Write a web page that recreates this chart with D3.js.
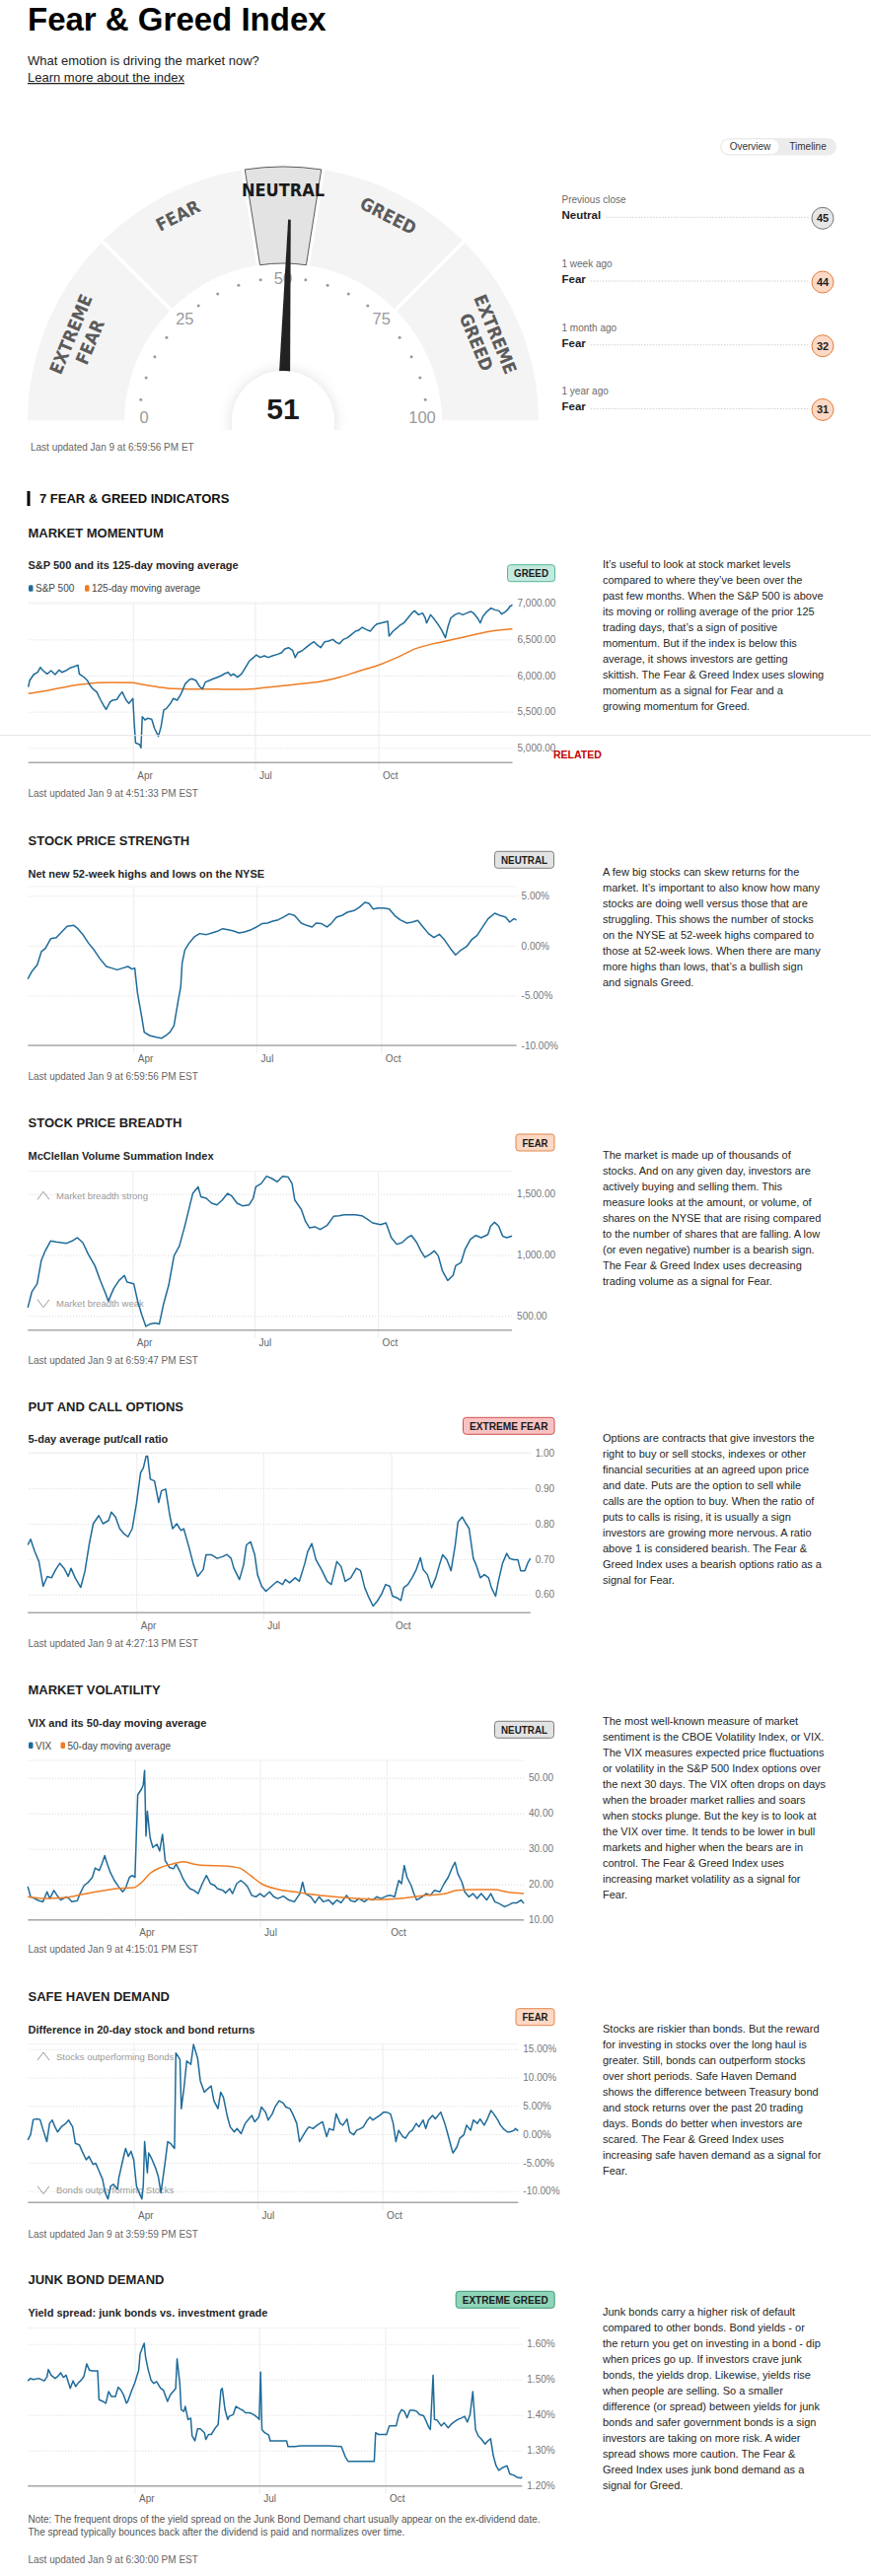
<!DOCTYPE html>
<html lang="en">
<head>
<meta charset="UTF-8">
<title>Fear &amp; Greed Index</title>
<style>
  body { margin: 0; background: #fff; }
  svg { display: block; font-family: "Liberation Sans", Arial, Helvetica, sans-serif; }
  .cond { font-family: "Liberation Sans Narrow", "Arial Narrow", "DejaVu Sans Condensed", sans-serif; font-stretch: condensed; }
</style>
</head>
<body>
<svg id="page" width="883" height="2612"></svg>
<script src="https://d3js.org/d3.v7.min.js"></script>
<script>
// ---------- data ----------
const START = new Date(2025, 0, 13);
const END = new Date(2026, 0, 9);
const monthTicks = [new Date(2025, 3, 1), new Date(2025, 6, 1), new Date(2025, 9, 1)];
const monthLabels = ["Apr", "Jul", "Oct"];

const gaugeValue = 51;
const zoneNames = [["EXTREME", "FEAR"], ["FEAR"], ["NEUTRAL"], ["GREED"], ["EXTREME", "GREED"]];
const zoneBounds = [[0, 25], [25, 45], [45, 55], [55, 75], [75, 100]];
const activeZone = 2;

const historyLabels = ["Previous close", "1 week ago", "1 month ago", "1 year ago"];
const historyRatings = ["Neutral", "Fear", "Fear", "Fear"];
const historyValues = [45, 44, 32, 31];

// [days since Jan 13 2025, value]
const sp500 = [[0,5841],[1,5932],[4,6014],[7,6045],[9,6114],[11,6068],[14,6023],[17,6068],[20,6014],[23,6077],[25,6045],[28,6068],[31,6105],[34,6123],[37,6145],[38,6023],[41,5986],[44,5932],[46,5864],[48,5818],[51,5773],[54,5659],[56,5591],[58,5532],[61,5636],[63,5659],[66,5668],[68,5727],[70,5773],[73,5659],[75,5614],[78,5682],[79,5341],[80,5068],[83,5046],[84,5000],[85,5432],[87,5386],[89,5409],[92,5396],[94,5273],[97,5159],[99,5296],[101,5523],[103,5545],[106,5614],[108,5682],[111,5659],[114,5750],[117,5886],[120,5941],[122,5955],[125,5932],[128,5841],[130,5818],[132,5909],[135,5932],[138,5955],[141,5977],[144,6000],[146,6023],[149,6045],[151,6000],[153,6023],[156,5977],[159,6023],[162,6114],[165,6205],[168,6250],[170,6286],[173,6250],[176,6273],[179,6250],[182,6273],[186,6295],[189,6318],[191,6364],[194,6386],[197,6350],[199,6250],[201,6318],[204,6341],[207,6386],[210,6432],[213,6468],[215,6432],[218,6386],[221,6468],[224,6477],[227,6500],[230,6455],[232,6441],[235,6500],[238,6523],[241,6568],[244,6614],[246,6623],[249,6668],[252,6636],[255,6614],[258,6682],[260,6714],[263,6727],[266,6741],[268,6750],[269,6545],[272,6614],[275,6659],[277,6695],[280,6727],[283,6795],[286,6864],[288,6895],[291,6841],[294,6864],[296,6795],[297,6727],[300,6841],[303,6773],[306,6695],[308,6636],[311,6523],[313,6682],[315,6795],[318,6841],[321,6864],[324,6841],[327,6864],[330,6886],[332,6864],[335,6795],[337,6727],[339,6818],[342,6886],[345,6932],[348,6909],[351,6895],[353,6850],[356,6886],[358,6923],[359,6955],[361,6977]];
const sp500Ma125 = [[0,5750],[7,5773],[15,5795],[21,5818],[30,5850],[35,5868],[44,5886],[52,5900],[63,5905],[77,5900],[86,5873],[97,5841],[108,5818],[120,5814],[134,5814],[148,5809],[162,5809],[176,5832],[190,5859],[204,5886],[218,5918],[232,5977],[246,6059],[260,6136],[275,6250],[289,6373],[303,6445],[317,6500],[331,6559],[345,6614],[361,6645]];
const highsLows = [[0,-3.34],[3,-2.58],[7,-1.92],[10,-0.60],[13,-0.28],[17,0.71],[21,0.81],[25,1.37],[29,1.93],[34,2.03],[37,1.70],[41,1.04],[45,0.22],[49,-0.44],[53,-1.26],[58,-2.09],[62,-2.25],[66,-2.42],[70,-2.25],[74,-2.09],[77,-2.35],[79,-2.25],[81,-4.73],[84,-7.03],[86,-8.68],[90,-9.01],[95,-9.18],[99,-9.28],[102,-9.01],[105,-8.68],[108,-8.02],[110,-6.37],[113,-4.07],[114,-1.76],[116,-0.44],[119,0.22],[123,0.88],[127,1.21],[132,1.11],[136,1.27],[140,1.44],[144,1.70],[148,1.60],[152,1.47],[156,1.27],[160,1.37],[165,1.60],[169,1.87],[173,2.20],[177,2.26],[181,2.46],[185,2.59],[189,2.86],[193,3.19],[197,3.02],[202,2.26],[206,2.03],[210,1.87],[213,2.26],[217,2.20],[221,1.87],[224,2.20],[228,2.86],[232,3.02],[236,3.35],[241,3.52],[245,3.85],[249,4.34],[252,4.24],[255,3.68],[259,3.78],[263,3.78],[267,3.68],[271,3.02],[275,2.59],[280,2.26],[284,2.36],[288,2.53],[292,1.87],[296,1.21],[300,0.81],[304,1.14],[308,0.55],[313,-0.44],[316,-0.93],[320,-0.44],[324,-0.11],[328,0.61],[332,1.04],[336,1.87],[340,2.69],[345,3.25],[349,3.02],[353,2.86],[356,2.36],[359,2.69],[361,2.59]];
const mcclellan = [[0,568],[3,697],[7,764],[10,953],[13,1034],[17,1115],[21,1107],[25,1101],[29,1096],[33,1115],[37,1142],[41,1101],[45,1007],[50,912],[54,791],[58,683],[60,621],[64,724],[68,791],[72,832],[74,778],[79,764],[82,616],[85,508],[88,414],[91,433],[95,441],[98,433],[101,589],[105,751],[109,993],[113,1074],[117,1236],[120,1371],[123,1505],[127,1559],[129,1478],[133,1465],[137,1425],[141,1411],[145,1451],[149,1505],[152,1484],[156,1425],[160,1403],[165,1411],[168,1465],[170,1559],[174,1586],[178,1646],[182,1627],[186,1600],[190,1646],[194,1640],[197,1586],[199,1451],[204,1371],[207,1276],[210,1222],[214,1231],[218,1209],[223,1241],[228,1317],[232,1322],[236,1330],[240,1330],[244,1330],[249,1322],[253,1295],[257,1263],[263,1249],[267,1263],[271,1142],[275,1088],[279,1101],[283,1142],[286,1160],[290,1101],[293,1034],[296,980],[300,1007],[303,1034],[306,993],[309,872],[313,791],[317,832],[319,912],[323,939],[326,1047],[330,1128],[334,1160],[338,1142],[343,1168],[345,1236],[348,1268],[351,1236],[354,1155],[357,1142],[361,1155]];
const putCall = [[0,0.740],[2,0.756],[5,0.721],[8,0.693],[11,0.623],[14,0.651],[17,0.647],[20,0.670],[23,0.688],[26,0.674],[29,0.651],[31,0.674],[34,0.647],[38,0.620],[41,0.665],[44,0.740],[47,0.800],[51,0.823],[54,0.800],[58,0.809],[60,0.833],[63,0.819],[66,0.786],[69,0.772],[72,0.763],[75,0.786],[78,0.856],[81,0.944],[83,0.958],[85,0.991],[86,0.991],[88,0.926],[91,0.921],[94,0.860],[96,0.893],[99,0.898],[102,0.823],[104,0.786],[107,0.800],[110,0.781],[112,0.786],[116,0.730],[119,0.684],[122,0.651],[126,0.670],[128,0.712],[132,0.712],[136,0.702],[140,0.707],[143,0.713],[146,0.702],[148,0.674],[152,0.642],[155,0.684],[157,0.740],[160,0.749],[163,0.712],[165,0.656],[168,0.623],[171,0.609],[175,0.623],[179,0.637],[183,0.628],[185,0.642],[188,0.633],[192,0.647],[195,0.637],[199,0.688],[201,0.721],[204,0.744],[207,0.698],[211,0.670],[215,0.637],[218,0.628],[222,0.693],[225,0.679],[228,0.637],[232,0.647],[236,0.674],[239,0.667],[242,0.619],[245,0.591],[248,0.567],[251,0.581],[254,0.600],[257,0.628],[260,0.623],[262,0.595],[265,0.591],[268,0.583],[270,0.619],[273,0.628],[276,0.647],[279,0.670],[282,0.704],[284,0.670],[287,0.656],[290,0.619],[293,0.647],[296,0.688],[298,0.712],[301,0.698],[304,0.667],[307,0.740],[309,0.805],[312,0.819],[314,0.805],[317,0.786],[320,0.702],[322,0.684],[325,0.647],[328,0.656],[331,0.647],[333,0.619],[336,0.595],[338,0.637],[341,0.688],[344,0.716],[346,0.702],[349,0.698],[352,0.698],[354,0.667],[357,0.667],[359,0.688],[361,0.702]];
const vix = [[0,19.4],[2,16.5],[5,16.0],[8,15.4],[11,15.1],[14,17.9],[16,16.0],[19,18.3],[22,16.5],[24,15.6],[28,16.5],[30,16.0],[32,15.1],[36,15.4],[38,17.4],[41,19.7],[44,20.6],[47,22.0],[49,24.6],[52,23.9],[54,25.9],[56,28.1],[57,26.7],[60,23.4],[63,21.1],[66,19.4],[69,17.9],[71,18.8],[74,22.0],[76,22.5],[78,22.0],[80,45.2],[83,47.0],[84,48.0],[85,52.1],[86,33.6],[87,40.6],[89,33.1],[91,30.4],[94,31.3],[96,29.4],[98,34.1],[100,26.7],[103,24.8],[106,24.4],[108,25.7],[111,23.4],[113,21.6],[116,19.7],[118,18.8],[121,18.3],[124,17.4],[127,20.2],[130,22.5],[133,20.2],[136,19.7],[138,18.8],[142,18.3],[144,17.6],[147,18.8],[149,17.4],[152,20.2],[155,21.1],[158,20.2],[160,19.3],[163,16.9],[166,16.5],[169,17.4],[172,16.5],[176,17.9],[179,16.5],[182,16.0],[186,16.7],[190,15.6],[194,15.1],[198,17.4],[200,20.6],[202,17.4],[206,16.5],[209,14.8],[212,16.5],[215,15.1],[219,15.6],[222,14.4],[225,15.6],[228,14.8],[232,16.9],[235,15.4],[238,15.1],[241,16.0],[245,15.1],[248,16.0],[251,15.6],[254,16.5],[257,16.0],[261,16.7],[264,16.9],[267,16.5],[270,21.1],[272,20.2],[274,25.3],[276,22.0],[279,19.7],[281,17.4],[283,15.6],[287,16.5],[290,17.4],[293,16.9],[296,18.3],[300,17.9],[303,20.2],[306,22.0],[309,24.8],[311,26.2],[313,23.0],[316,20.6],[318,17.9],[321,16.5],[324,17.4],[327,16.0],[330,17.4],[334,15.6],[337,17.4],[340,15.1],[343,14.6],[347,13.7],[350,14.2],[353,14.8],[356,14.8],[359,15.6],[361,14.6]];
const vixMa50 = [[0,16.5],[12,16.0],[28,16.3],[40,17.2],[53,18.1],[65,18.8],[77,19.1],[83,20.6],[89,23.1],[97,24.8],[105,25.7],[113,26.4],[121,25.7],[130,25.3],[142,25.2],[154,24.6],[162,22.5],[170,20.2],[182,18.6],[194,17.9],[206,17.2],[223,16.5],[239,16.0],[255,15.7],[271,16.0],[287,16.8],[304,17.4],[312,18.3],[324,18.5],[340,18.5],[348,17.9],[361,17.4]];
const safeHaven = [[0,-1.0],[2,-0.1],[4,2.6],[7,2.7],[9,2.6],[11,1.0],[14,-1.3],[16,1.9],[18,2.5],[20,1.3],[22,0.4],[25,1.4],[28,1.9],[30,2.5],[33,1.3],[35,-1.6],[38,-1.9],[40,-3.0],[43,-4.5],[45,-3.9],[48,-5.3],[50,-5.1],[53,-6.8],[55,-7.9],[57,-10.3],[59,-11.4],[61,-9.1],[63,-8.8],[66,-9.7],[67,-7.7],[70,-4.5],[72,-2.5],[74,-3.9],[76,-3.0],[78,-4.5],[80,-9.1],[82,-10.3],[84,-11.4],[85,-9.1],[86,-1.3],[88,-6.8],[89,-3.3],[91,-4.2],[94,-5.9],[96,-7.4],[98,-10.3],[101,-5.1],[103,-1.3],[105,-1.6],[108,-2.5],[109,14.3],[112,13.2],[113,4.5],[115,8.2],[117,12.9],[120,12.3],[122,15.8],[125,13.4],[127,9.4],[130,7.4],[132,7.9],[135,8.5],[137,5.9],[140,4.5],[142,7.4],[144,6.5],[147,3.0],[149,1.3],[152,0.4],[154,1.0],[157,0.1],[160,1.9],[162,2.5],[165,3.3],[167,2.2],[170,3.0],[172,4.8],[175,3.9],[177,2.5],[180,3.6],[182,4.8],[185,5.9],[188,5.5],[190,4.8],[193,4.5],[195,3.6],[198,1.9],[200,-1.3],[203,-0.1],[205,0.7],[207,1.3],[210,1.0],[213,1.6],[215,1.9],[217,2.2],[220,-0.4],[222,1.0],[225,0.7],[227,3.6],[230,1.9],[232,1.6],[235,2.7],[237,0.4],[240,-0.1],[242,0.7],[245,1.0],[247,1.3],[250,2.5],[252,3.0],[254,2.5],[257,3.0],[259,3.3],[262,3.9],[264,3.9],[267,3.6],[269,1.9],[271,-1.3],[273,0.7],[276,-0.4],[278,-0.7],[281,0.4],[283,0.7],[286,1.9],[288,1.3],[291,2.5],[293,1.0],[295,2.5],[298,3.3],[300,2.7],[303,3.6],[304,3.9],[307,1.9],[309,0.2],[312,-2.5],[313,-3.3],[316,-2.2],[318,-0.7],[321,-0.1],[323,1.6],[326,0.7],[328,2.5],[331,1.9],[333,2.7],[336,1.6],[338,2.5],[341,4.2],[343,3.6],[346,2.5],[348,1.6],[350,1.0],[353,0.4],[355,0.4],[358,0.7],[359,1.0],[361,0.6]];
const junkSpread = [[0,1.496],[2,1.503],[4,1.500],[8,1.503],[12,1.496],[14,1.507],[15,1.528],[17,1.512],[20,1.503],[22,1.509],[24,1.519],[26,1.506],[28,1.512],[29,1.500],[31,1.475],[33,1.496],[35,1.480],[37,1.491],[39,1.498],[41,1.509],[43,1.544],[45,1.526],[47,1.524],[51,1.524],[52,1.443],[55,1.438],[57,1.433],[59,1.466],[61,1.452],[64,1.452],[66,1.478],[68,1.470],[70,1.456],[72,1.433],[73,1.438],[76,1.470],[78,1.489],[81,1.526],[82,1.572],[85,1.602],[86,1.563],[88,1.526],[90,1.498],[92,1.489],[94,1.494],[97,1.475],[99,1.470],[102,1.438],[104,1.456],[107,1.470],[108,1.475],[109,1.558],[111,1.489],[112,1.415],[114,1.410],[115,1.424],[117,1.387],[119,1.391],[120,1.341],[122,1.327],[124,1.361],[126,1.361],[129,1.350],[130,1.331],[132,1.345],[134,1.345],[137,1.364],[139,1.373],[141,1.470],[142,1.475],[144,1.415],[146,1.387],[147,1.396],[150,1.401],[152,1.424],[155,1.417],[157,1.413],[159,1.406],[162,1.406],[165,1.401],[168,1.392],[169,1.387],[170,1.521],[171,1.359],[173,1.350],[176,1.343],[177,1.327],[183,1.327],[189,1.327],[190,1.311],[195,1.311],[199,1.313],[207,1.313],[220,1.313],[229,1.311],[232,1.281],[234,1.269],[244,1.269],[253,1.269],[254,1.350],[256,1.345],[262,1.345],[264,1.369],[269,1.369],[271,1.401],[273,1.415],[275,1.410],[277,1.392],[279,1.413],[282,1.413],[284,1.410],[286,1.401],[289,1.398],[291,1.382],[293,1.364],[294,1.359],[296,1.512],[297,1.387],[299,1.385],[302,1.369],[304,1.378],[307,1.364],[309,1.373],[312,1.382],[314,1.387],[317,1.392],[319,1.396],[321,1.380],[323,1.401],[325,1.466],[327,1.359],[329,1.341],[331,1.333],[334,1.318],[336,1.327],[338,1.333],[340,1.285],[342,1.257],[344,1.244],[347,1.252],[350,1.257],[352,1.234],[355,1.230],[357,1.225],[360,1.222],[361,1.225]];

const sp500Ticks = [5000, 5500, 6000, 6500, 7000];
const highsLowsTicks = [-10, -5, 0, 5];
const mcclellanTicks = [500, 1000, 1500];
const putCallTicks = [0.6, 0.7, 0.8, 0.9, 1.0];
const vixTicks = [10, 20, 30, 40, 50];
const safeHavenTicks = [-10, -5, 0, 5, 10, 15];
const junkTicks = [1.2, 1.3, 1.4, 1.5, 1.6];

const BLUE = "#1f6b9a", ORANGE = "#ee7d24";

// ---------- helpers ----------
const svg = d3.select("#page");
const loc = d3.formatLocale({ decimal: ".", thousands: ",", grouping: [3], currency: ["$", ""], minus: "-" });
const fmtNum = loc.format(",.2f");
const fmtPct = d => loc.format(".2f")(d) + "%";

const defs = svg.append("defs");
defs.append("filter").attr("id", "soft").attr("x", "-50%").attr("y", "-50%").attr("width", "200%").attr("height", "200%")
  .append("feDropShadow").attr("dx", 0).attr("dy", 0).attr("stdDeviation", 7).attr("flood-color", "#000").attr("flood-opacity", 0.13);
defs.append("clipPath").attr("id", "hubClip").append("rect").attr("x", -90).attr("y", -90).attr("width", 180).attr("height", 98);

function txt(x, y, s, o = {}) {
  const t = svg.append("text").attr("x", x).attr("y", y).text(s)
    .attr("font-size", o.size || 11).attr("font-weight", o.weight || 400).attr("fill", o.color || "#222");
  if (o.anchor) t.attr("text-anchor", o.anchor);
  return t;
}

function paragraph(lines, y0) {
  lines.forEach((s, i) => txt(611, y0 + i * 16, s, { size: 11, color: "#262626" }));
}

const badgeStyle = {
  "GREED": ["#c2eadf", "#55b597"],
  "NEUTRAL": ["#e3e3e3", "#7d7d7d"],
  "FEAR": ["#fdd8c3", "#e2864a"],
  "EXTREME FEAR": ["#f9c2c2", "#cf4f4f"],
  "EXTREME GREED": ["#8fd5b9", "#3b9b77"]
};
function badge(label, x, y, w) {
  const [fill, stroke] = badgeStyle[label];
  svg.append("rect").attr("x", x + 0.5).attr("y", y + 0.5).attr("width", w).attr("height", 17)
    .attr("rx", 3).attr("fill", fill).attr("stroke", stroke);
  txt(x + 0.5 + w / 2, y + 13, label, { size: 11, weight: 700, anchor: "middle", color: "#1c1c1c" })
    .attr("textLength", w - 13).attr("lengthAdjust", "spacingAndGlyphs");
}

function sectionHead(title, titleY, sub, subY) {
  txt(28.5, titleY, title, { size: 13, weight: 700, color: "#1e1e1e" });
  txt(28.5, subY, sub, { size: 11, weight: 700, color: "#262626" });
}

function legend(y, items) {
  items.forEach(it => {
    svg.append("rect").attr("x", it[0]).attr("y", y - 7).attr("width", 4.5).attr("height", 6.5).attr("rx", 1.5).attr("fill", it[2]);
    txt(it[0] + 7, y, it[1], { size: 10, color: "#444" });
  });
}

function lineChart(c) {
  const g = svg.append("g");
  const x = d3.scaleTime().domain([START, END]).range([c.left, c.right]);
  const y = d3.scaleLinear().domain([c.ticks[0], c.ticks[c.ticks.length - 1]]).range([c.y0, c.y1]);

  g.append("line").attr("x1", c.left).attr("x2", c.right).attr("y1", c.top).attr("y2", c.top)
    .attr("stroke", "#f1f1f1");

  const ya = g.append("g").attr("transform", `translate(${c.right},0)`)
    .call(d3.axisRight(y).tickValues(c.ticks).tickSize(-(c.right - c.left)).tickPadding(5).tickFormat(c.fmt));
  ya.attr("font-family", null).attr("font-size", null);
  ya.select(".domain").remove();
  ya.selectAll(".tick line").attr("stroke", "#d6d6d6").attr("stroke-dasharray", "1,2");
  ya.selectAll(".tick text").attr("fill", "#777").attr("font-size", 10);

  const xa = g.append("g").attr("transform", `translate(0,${c.top})`)
    .call(d3.axisBottom(x).tickValues(monthTicks).tickSize(c.axisY - c.top + 8).tickPadding(1.5)
      .tickFormat((d, i) => monthLabels[i]));
  xa.attr("font-family", null).attr("font-size", null);
  xa.select(".domain").remove();
  xa.selectAll(".tick line").attr("stroke", "#ececec");
  xa.selectAll(".tick text").attr("fill", "#666").attr("font-size", 10).attr("x", 4).attr("text-anchor", "start");

  g.append("line").attr("x1", c.left).attr("x2", c.right).attr("y1", c.axisY).attr("y2", c.axisY)
    .attr("stroke", "#a8a8a8").attr("stroke-width", 1.5);

  (c.notes || []).forEach(n => {
    const d = n.up ? -1 : 1;
    g.append("path").attr("d", `M38,${n.y - 4 * d}L44,${n.y + 4 * d}L50,${n.y - 4 * d}`)
      .attr("fill", "none").attr("stroke", "#9a9a9a");
    g.append("text").attr("x", 57).attr("y", n.y + 3.5).attr("font-size", 9.5).attr("fill", "#9a9a9a").text(n.text);
  });

  c.series.forEach(s => {
    const line = d3.line()
      .x(d => x(d3.timeDay.offset(START, Math.min(d[0], 361))))
      .y(d => y(d[1]))
      .curve(s.smooth ? d3.curveMonotoneX : d3.curveLinear);
    g.append("path").datum(s.data).attr("d", line).attr("fill", "none")
      .attr("stroke", s.color).attr("stroke-width", 1.5).attr("stroke-linejoin", "round");
  });
  return g;
}

function updated(y, s) { txt(28.5, y, s, { size: 10, color: "#666" }); }

// ---------- header ----------
txt(28, 31, "Fear & Greed Index", { size: 33, weight: 700, color: "#000" });
txt(28, 66, "What emotion is driving the market now?", { size: 13, color: "#222" });
txt(28, 83, "Learn more about the index", { size: 13, color: "#222" }).attr("text-decoration", "underline");

// ---------- gauge ----------
const GX = 287, GY = 428;
const gAng = d3.scaleLinear().domain([0, 100]).range([-Math.PI / 2, Math.PI / 2]);
const gauge = svg.append("g").attr("transform", `translate(${GX},${GY})`);
const band = d3.arc().innerRadius(161).outerRadius(259).padAngle(0.018).padRadius(200);

zoneBounds.forEach((b, i) => {
  const on = i === activeZone;
  gauge.append("path").attr("d", band({ startAngle: gAng(b[0]), endAngle: gAng(b[1]) }))
    .attr("fill", on ? "#e3e3e3" : "#f4f4f4").attr("stroke", on ? "#5a5a5a" : "none").attr("stroke-width", 1);
});

zoneNames.forEach((lines, i) => {
  const a = gAng((zoneBounds[i][0] + zoneBounds[i][1]) / 2);
  const radii = lines.length === 1 ? [235] : [233, 212];
  lines.forEach((s, j) => {
    const r = radii[j];
    gauge.append("text").attr("class", "cond")
      .attr("transform", `translate(${r * Math.sin(a)},${-r * Math.cos(a)}) rotate(${a * 180 / Math.PI})`)
      .attr("text-anchor", "middle").attr("dy", "0.36em")
      .attr("font-size", 18).attr("font-weight", 700)
      .attr("fill", i === activeZone ? "#1a1a1a" : "#5b5b5b").text(s);
  });
});

d3.range(0, 101, 5).forEach(v => {
  const a = gAng(v);
  if (v % 25 === 0) {
    gauge.append("text").attr("x", 141 * Math.sin(a)).attr("y", -141 * Math.cos(a) - 5)
      .attr("dy", "0.36em").attr("text-anchor", "middle").attr("font-size", 16.5).attr("fill", "#9a9a9a").text(v);
  } else {
    gauge.append("circle").attr("cx", 146 * Math.sin(a)).attr("cy", -146 * Math.cos(a)).attr("r", 1.5).attr("fill", "#9a9a9a");
  }
});

const needleA = gAng(gaugeValue) * 180 / Math.PI;
gauge.append("path").attr("d", "M-5.6,-48L5.6,-48L1.3,-205.5L-1.3,-205.5Z")
  .attr("transform", `rotate(${needleA})`).attr("fill", "#222");
gauge.append("circle").attr("r", 52).attr("fill", "#fff").attr("filter", "url(#soft)").attr("clip-path", "url(#hubClip)");
gauge.append("text").attr("y", -3).attr("text-anchor", "middle").attr("font-size", 30).attr("font-weight", 700)
  .attr("fill", "#1a1a1a").text(gaugeValue);

txt(31, 457, "Last updated Jan 9 at 6:59:56 PM ET", { size: 10, color: "#666" });

// ---------- right panel ----------
svg.append("rect").attr("x", 730).attr("y", 140).attr("width", 118).attr("height", 17.5).attr("rx", 8.75).attr("fill", "#ececec");
svg.append("rect").attr("x", 731).attr("y", 141).attr("width", 59).attr("height", 15.5).attr("rx", 7.75).attr("fill", "#fff")
  .attr("stroke", "#e0e0e0").attr("stroke-width", 0.5);
txt(760.5, 152, "Overview", { size: 10, anchor: "middle", color: "#333" });
txt(819, 152, "Timeline", { size: 10, anchor: "middle", color: "#333" });

historyLabels.forEach((lab, i) => {
  const y = 206.3 + i * 64.7;
  txt(569.5, y, lab, { size: 10, color: "#6a6a6a" });
  const r = txt(569.5, y + 16, historyRatings[i], { size: 11.5, weight: 700, color: "#1e1e1e" });
  const w = r.node().getComputedTextLength();
  const cy = y + 15;
  svg.append("line").attr("x1", 569.5 + w + 5).attr("x2", 821).attr("y1", cy - 1).attr("y2", cy - 1)
    .attr("stroke", "#cfcfcf").attr("stroke-dasharray", "1.5,1.5");
  const neutral = historyRatings[i] === "Neutral";
  svg.append("circle").attr("cx", 834).attr("cy", cy).attr("r", 11)
    .attr("fill", neutral ? "#e6e6e6" : "#fdd9c5").attr("stroke", neutral ? "#777" : "#e07f40");
  txt(834, cy + 4, historyValues[i], { size: 11, weight: 700, anchor: "middle", color: "#1e1e1e" });
});

// ---------- indicators ----------
svg.append("rect").attr("x", 27.5).attr("y", 498).attr("width", 3).attr("height", 15).attr("fill", "#000");
txt(40, 510, "7 FEAR & GREED INDICATORS", { size: 13, weight: 700, color: "#111" });

// 1. Market momentum
sectionHead("MARKET MOMENTUM", 545.4, "S&P 500 and its 125-day moving average", 577.3);
badge("GREED", 514, 572.2, 48);
legend(600.3, [[29, "S&P 500", BLUE], [86, "125-day moving average", ORANGE]]);
lineChart({ left: 28.7, right: 519.5, top: 611, axisY: 773.3, ticks: sp500Ticks, y0: 758.3, y1: 611.7, fmt: fmtNum,
  series: [{ data: sp500Ma125, color: ORANGE, smooth: true }, { data: sp500, color: BLUE }] });
paragraph([
  "It’s useful to look at stock market levels",
  "compared to where they’ve been over the",
  "past few months. When the S&P 500 is above",
  "its moving or rolling average of the prior 125",
  "trading days, that’s a sign of positive",
  "momentum. But if the index is below this",
  "average, it shows investors are getting",
  "skittish. The Fear & Greed Index uses slowing",
  "momentum as a signal for Fear and a",
  "growing momentum for Greed."], 576);
updated(807.6, "Last updated Jan 9 at 4:51:33 PM EST");

// 2. Stock price strength
sectionHead("STOCK PRICE STRENGTH", 856.7, "Net new 52-week highs and lows on the NYSE", 890);
badge("NEUTRAL", 501, 862.8, 60);
lineChart({ left: 28.2, right: 523.6, top: 899, axisY: 1060, ticks: highsLowsTicks, y0: 1060, y1: 908.3, fmt: fmtPct,
  series: [{ data: highsLows, color: BLUE }] });
paragraph([
  "A few big stocks can skew returns for the",
  "market. It’s important to also know how many",
  "stocks are doing well versus those that are",
  "struggling. This shows the number of stocks",
  "on the NYSE at 52-week highs compared to",
  "those at 52-week lows. When there are many",
  "more highs than lows, that’s a bullish sign",
  "and signals Greed."], 888.3);
updated(1095.3, "Last updated Jan 9 at 6:59:56 PM EST");

// 3. Stock price breadth
sectionHead("STOCK PRICE BREADTH", 1143, "McClellan Volume Summation Index", 1176.3);
badge("FEAR", 522.5, 1149.5, 39);
lineChart({ left: 28.2, right: 519.1, top: 1187.7, axisY: 1348.7, ticks: mcclellanTicks, y0: 1334.3, y1: 1210.7, fmt: fmtNum,
  notes: [{ up: true, y: 1212.3, text: "Market breadth strong" }, { up: false, y: 1321.7, text: "Market breadth weak" }],
  series: [{ data: mcclellan, color: BLUE }] });
paragraph([
  "The market is made up of thousands of",
  "stocks. And on any given day, investors are",
  "actively buying and selling them. This",
  "measure looks at the amount, or volume, of",
  "shares on the NYSE that are rising compared",
  "to the number of shares that are falling. A low",
  "(or even negative) number is a bearish sign.",
  "The Fear & Greed Index uses decreasing",
  "trading volume as a signal for Fear."], 1175.3);
updated(1382.6, "Last updated Jan 9 at 6:59:47 PM EST");

// 4. Put and call options
sectionHead("PUT AND CALL OPTIONS", 1431.4, "5-day average put/call ratio", 1463.3);
badge("EXTREME FEAR", 469, 1436.8, 92.5);
lineChart({ left: 28.2, right: 537.7, top: 1473, axisY: 1635.3, ticks: putCallTicks, y0: 1616.7, y1: 1473.3, fmt: d => loc.format(".2f")(d),
  series: [{ data: putCall, color: BLUE }] });
paragraph([
  "Options are contracts that give investors the",
  "right to buy or sell stocks, indexes or other",
  "financial securities at an agreed upon price",
  "and date. Puts are the option to sell while",
  "calls are the option to buy. When the ratio of",
  "puts to calls is rising, it is usually a sign",
  "investors are growing more nervous. A ratio",
  "above 1 is considered bearish. The Fear &",
  "Greed Index uses a bearish options ratio as a",
  "signal for Fear."], 1462.3);
updated(1669.6, "Last updated Jan 9 at 4:27:13 PM EST");

// 5. Market volatility
sectionHead("MARKET VOLATILITY", 1718, "VIX and its 50-day moving average", 1750.7);
badge("NEUTRAL", 501, 1744.8, 60);
legend(1773.6, [[29, "VIX", BLUE], [61.5, "50-day moving average", ORANGE]]);
lineChart({ left: 28.2, right: 531, top: 1785, axisY: 1946.7, ticks: vixTicks, y0: 1946.7, y1: 1802.7, fmt: d => loc.format(".2f")(d),
  series: [{ data: vix, color: BLUE }, { data: vixMa50, color: ORANGE, smooth: true }] });
paragraph([
  "The most well-known measure of market",
  "sentiment is the CBOE Volatility Index, or VIX.",
  "The VIX measures expected price fluctuations",
  "or volatility in the S&P 500 Index options over",
  "the next 30 days. The VIX often drops on days",
  "when the broader market rallies and soars",
  "when stocks plunge. But the key is to look at",
  "the VIX over time. It tends to be lower in bull",
  "markets and higher when the bears are in",
  "control. The Fear & Greed Index uses",
  "increasing market volatility as a signal for",
  "Fear."], 1749);
updated(1980.3, "Last updated Jan 9 at 4:15:01 PM EST");

// 6. Safe haven demand
sectionHead("SAFE HAVEN DEMAND", 2029, "Difference in 20-day stock and bond returns", 2062.3);
badge("FEAR", 522.5, 2036.2, 39);
lineChart({ left: 28.2, right: 525.3, top: 2072.7, axisY: 2233.3, ticks: safeHavenTicks, y0: 2221.7, y1: 2077.7, fmt: fmtPct,
  notes: [{ up: true, y: 2085, text: "Stocks outperforming Bonds" }, { up: false, y: 2220.7, text: "Bonds outperforming Stocks" }],
  series: [{ data: safeHaven, color: BLUE }] });
paragraph([
  "Stocks are riskier than bonds. But the reward",
  "for investing in stocks over the long haul is",
  "greater. Still, bonds can outperform stocks",
  "over short periods. Safe Haven Demand",
  "shows the difference between Treasury bond",
  "and stock returns over the past 20 trading",
  "days. Bonds do better when investors are",
  "scared. The Fear & Greed Index uses",
  "increasing safe haven demand as a signal for",
  "Fear."], 2061.3);
updated(2268.6, "Last updated Jan 9 at 3:59:59 PM EST");

// 7. Junk bond demand
sectionHead("JUNK BOND DEMAND", 2316.4, "Yield spread: junk bonds vs. investment grade", 2349.3);
badge("EXTREME GREED", 461.7, 2322.8, 100);
lineChart({ left: 28.2, right: 529.3, top: 2360.7, axisY: 2520.7, ticks: junkTicks, y0: 2520.7, y1: 2376.7, fmt: fmtPct,
  series: [{ data: junkSpread, color: BLUE }] });
paragraph([
  "Junk bonds carry a higher risk of default",
  "compared to other bonds. Bond yields - or",
  "the return you get on investing in a bond - dip",
  "when prices go up. If investors crave junk",
  "bonds, the yields drop. Likewise, yields rise",
  "when people are selling. So a smaller",
  "difference (or spread) between yields for junk",
  "bonds and safer government bonds is a sign",
  "investors are taking on more risk. A wider",
  "spread shows more caution. The Fear &",
  "Greed Index uses junk bond demand as a",
  "signal for Greed."], 2348.3);
txt(28.5, 2557.6, "Note: The frequent drops of the yield spread on the Junk Bond Demand chart usually appear on the ex-dividend date.", { size: 10, color: "#555" });
txt(28.5, 2571.3, "The spread typically bounces back after the dividend is paid and normalizes over time.", { size: 10, color: "#555" });
updated(2599.3, "Last updated Jan 9 at 6:30:00 PM EST");

// overlapping "related" strip
svg.append("line").attr("x1", 0).attr("x2", 883).attr("y1", 745.7).attr("y2", 745.7).attr("stroke", "#e3e3e3");
txt(561, 768.5, "RELATED", { size: 10.5, weight: 700, color: "#c40000" });
</script>
</body>
</html>
